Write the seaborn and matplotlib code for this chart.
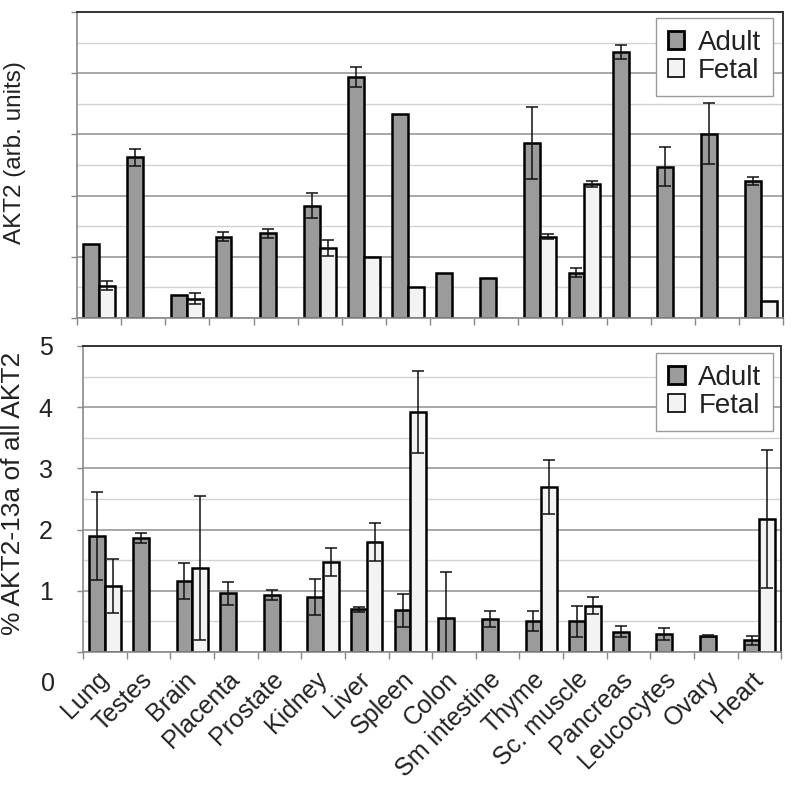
import matplotlib
matplotlib.use("Agg")
import matplotlib.pyplot as plt
from matplotlib.patches import Patch
from matplotlib.ticker import MultipleLocator, FixedLocator
from matplotlib.transforms import blended_transform_factory
import seaborn as sns
import pandas as pd
import numpy as np

nan = np.nan

# tissues in plotting order
tissues = ["Lung", "Testes", "Brain", "Placenta", "Prostate", "Kidney", "Liver", "Spleen",
           "Colon", "Sm intestine", "Thyme", "Sc. muscle", "Pancreas", "Leucocytes", "Ovary", "Heart"]

# top panel: AKT2 (arb. units)
adult_total = [2.42, 5.25, 0.75, 2.66, 2.77, 3.67, 7.88, 6.66, 1.46, 1.32, 5.71, 1.48, 8.70, 4.94, 6.02, 4.49]
adult_total_err = [0, 0.28, 0, 0.16, 0.15, 0.40, 0.33, 0, 0, 0, 1.18, 0.14, 0.22, 0.64, 1.00, 0.13]
fetal_total = [1.05, nan, 0.63, nan, nan, 2.28, 2.00, 1.00, nan, nan, 2.65, 4.39, nan, nan, nan, 0.57]
fetal_total_err = [0.15, 0, 0.17, 0, 0, 0.27, 0, 0, 0, 0, 0.08, 0.10, 0, 0, 0, 0]

# bottom panel: % AKT2-13a of all AKT2
adult_pct = [1.89, 1.86, 1.16, 0.96, 0.93, 0.90, 0.70, 0.68, 0.56, 0.54, 0.51, 0.50, 0.33, 0.30, 0.26, 0.19]
adult_pct_err = [0.72, 0.08, 0.30, 0.19, 0.08, 0.30, 0.04, 0.27, 0.75, 0.13, 0.16, 0.25, 0.09, 0.10, 0.02, 0.07]
fetal_pct = [1.08, nan, 1.37, nan, nan, 1.47, 1.80, 3.92, nan, nan, 2.70, 0.76, nan, nan, nan, 2.17]
fetal_pct_err = [0.44, 0, 1.18, 0, 0, 0.23, 0.31, 0.67, 0, 0, 0.44, 0.14, 0, 0, 0, 1.13]

stages = ["Adult", "Fetal"]
colors = {"Adult": "#9b9b9b", "Fetal": "#f3f3f3"}

sns.set_style("white")
plt.rcParams["font.family"] = ["Liberation Sans", "DejaVu Sans"]
plt.rcParams["text.color"] = "#222222"
plt.rcParams["axes.labelcolor"] = "#222222"
plt.rcParams["xtick.color"] = "#222222"
plt.rcParams["ytick.color"] = "#222222"


def make_frame(adult, fetal):
    return pd.DataFrame({
        "tissue": tissues * 2,
        "stage": ["Adult"] * len(tissues) + ["Fetal"] * len(tissues),
        "value": list(adult) + list(fetal),
    })


def draw_panel(ax, adult, adult_err, fetal, fetal_err, major, minor, top, legend_pos):
    df = make_frame(adult, fetal)
    sns.barplot(data=df, x="tissue", y="value", hue="stage", order=tissues,
                hue_order=stages, palette=colors, saturation=1, width=0.72,
                edgecolor="black", linewidth=1.8, errorbar=None, legend=False, ax=ax)

    # error bars placed on the bar centres
    errs = {"Adult": (adult, adult_err), "Fetal": (fetal, fetal_err)}
    for stage, cont in zip(stages, ax.containers):
        vals, err = errs[stage]
        xs, ys, es = [], [], []
        for bar in cont:
            cx = bar.get_x() + bar.get_width() / 2
            i = int(round(cx))
            if 0 <= i < len(tissues) and err[i] > 0 and not np.isnan(vals[i]):
                xs.append(cx)
                ys.append(vals[i])
                es.append(err[i])
        ax.errorbar(xs, ys, yerr=es, fmt="none", ecolor="#111111", elinewidth=1.1,
                    capsize=4, capthick=1.1, zorder=5)

    ax.set_xlim(-0.5, len(tissues) - 0.5)
    ax.set_ylim(0, top)
    ax.set_xlabel("")
    ax.yaxis.set_major_locator(MultipleLocator(major))
    ax.yaxis.set_minor_locator(MultipleLocator(minor))
    ax.xaxis.set_minor_locator(FixedLocator(np.arange(-0.5, len(tissues), 1.0)))
    ax.set_axisbelow(True)
    ax.grid(which="major", axis="y", color="#a0a0a0", linewidth=1.3)
    ax.grid(which="minor", axis="y", color="#d2d2d2", linewidth=1.0)
    ax.grid(which="both", axis="x", visible=False)
    ax.tick_params(axis="x", which="major", bottom=True, length=0)
    ax.tick_params(axis="x", which="minor", bottom=True, length=5, color="#888888", width=1)
    ax.tick_params(axis="y", which="major", left=True, length=4, color="#888888", width=1)
    ax.tick_params(axis="y", which="minor", left=False, length=0)
    for side in ["left", "bottom"]:
        ax.spines[side].set_color("#8a8a8a")
        ax.spines[side].set_linewidth(1.2)
    for side in ["top", "right"]:
        ax.spines[side].set_color("#333333")
        ax.spines[side].set_linewidth(1.4)

    handles = [Patch(facecolor=colors["Adult"], edgecolor="black", linewidth=2.0),
               Patch(facecolor=colors["Fetal"], edgecolor="black", linewidth=1.2)]
    leg = ax.legend(handles, stages, loc="upper right", bbox_to_anchor=legend_pos,
                    fontsize=20, frameon=True, fancybox=False, framealpha=1,
                    edgecolor="#9a9a9a", handlelength=0.6, handleheight=0.6,
                    handletextpad=0.5, labelspacing=0.08, borderpad=0.42,
                    borderaxespad=0)
    leg.get_frame().set_linewidth(1.0)
    leg.set_zorder(3)


fig = plt.figure(figsize=(8, 7.89), dpi=100)
ax1 = fig.add_axes([0.09625, 0.597, 0.8825, 0.3878])
ax2 = fig.add_axes([0.104, 0.1736, 0.8725, 0.3879])

# top panel
draw_panel(ax1, adult_total, adult_total_err, fetal_total, fetal_total_err, 2, 1, 10,
           (1 - 10 / 706, 1 - 6 / 306))
ax1.set_xticklabels([])
ax1.tick_params(axis="y", labelleft=False)
ax1.set_ylabel("AKT2 (arb. units)", fontsize=17.5)
ax1.yaxis.set_label_coords(-0.072, 0.54)

# bottom panel
draw_panel(ax2, adult_pct, adult_pct_err, fetal_pct, fetal_pct_err, 1, 0.5, 5,
           (1 - 8 / 698, 1 - 7 / 306))
ax2.set_yticks([0, 1, 2, 3, 4, 5])
ax2.set_yticklabels(["", "1", "2", "3", "4", "5"])
ax2.tick_params(axis="y", which="major", labelsize=18, pad=18)
ax2.text(-0.040, -0.53, "0", fontsize=18, ha="right", va="center",
         transform=blended_transform_factory(ax2.transAxes, ax2.transData), clip_on=False)
ax2.set_xticks(range(len(tissues)))
ax2.set_xticklabels(tissues, rotation=45, ha="right", va="center",
                    rotation_mode="anchor", fontsize=18)
ax2.tick_params(axis="x", which="major", pad=17)
ax2.set_ylabel("% AKT2-13a of all AKT2", fontsize=19)
ax2.yaxis.set_label_coords(-0.083, 0.52)

fig.savefig("out.png", dpi=100)
plt.close(fig)
